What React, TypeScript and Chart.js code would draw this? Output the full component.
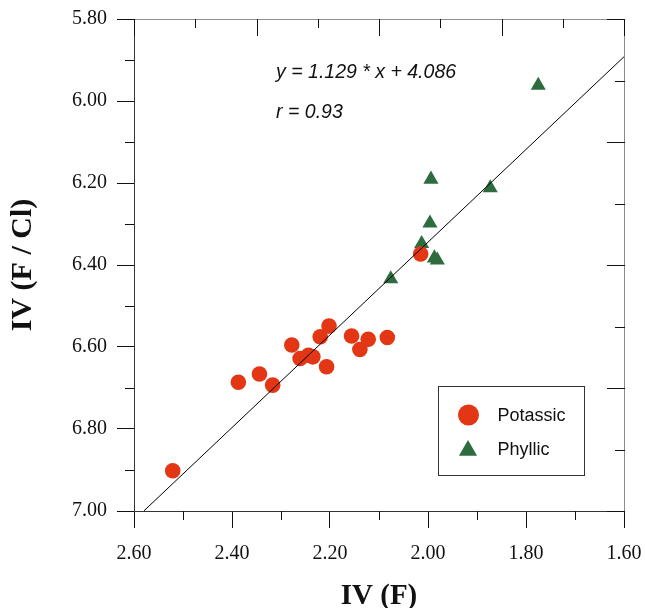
import React, { useEffect, useRef } from 'react';
import { Chart, registerables } from 'chart.js';

Chart.register(...registerables);

// ---- data ----
const potassicX = [2.521, 2.387, 2.344, 2.317, 2.278, 2.261, 2.244, 2.235, 2.220, 2.202, 2.207, 2.156, 2.139, 2.122, 2.083, 2.015];
const potassicY = [6.902, 6.686, 6.666, 6.693, 6.595, 6.628, 6.620, 6.624, 6.575, 6.549, 6.648, 6.573, 6.606, 6.581, 6.577, 6.373];

const phyllicX = [1.775, 1.994, 1.873, 1.996, 2.013, 1.987, 1.981, 2.076];
const phyllicY = [5.962, 6.191, 6.212, 6.298, 6.348, 6.383, 6.388, 6.434];

// regression line end points (y = 1.129 * x + 4.086)
const fitX = [2.58, 1.60];
const fitY = [7.00, 5.892];

const xTickValues = [2.6, 2.4, 2.2, 2.0, 1.8, 1.6];
const xMinorValues = [2.5, 2.3, 2.1, 1.9, 1.7];
const yTickValues = [5.8, 6.0, 6.2, 6.4, 6.6, 6.8, 7.0];
const yMinorValues = [5.9, 6.1, 6.3, 6.5, 6.7, 6.9];

const seriesNames = ['Potassic', 'Phyllic'];
const equationText = 'y = 1.129 * x + 4.086';
const rText = 'r = 0.93';

// annotation anchors in data units
const equationPos = [2.31, 5.945];
const rPos = [2.31, 6.042];

const RED = '#E23614';
const GREEN = '#2E6C3F';
const SERIF = '"Liberation Serif", "Times New Roman", Times, serif';
const SANS = '"Liberation Sans", Arial, Helvetica, sans-serif';

function drawTriangle(ctx: CanvasRenderingContext2D, cx: number, cy: number, r: number) {
  ctx.beginPath();
  let a = 0;
  ctx.moveTo(cx + Math.sin(a) * r, cy - Math.cos(a) * r);
  a += (2 * Math.PI) / 3;
  ctx.lineTo(cx + Math.sin(a) * r, cy - Math.cos(a) * r);
  a += (2 * Math.PI) / 3;
  ctx.lineTo(cx + Math.sin(a) * r, cy - Math.cos(a) * r);
  ctx.closePath();
  ctx.fill();
}

const framePlugin = {
  id: 'frameDecor',
  afterDraw(chart: any) {
    const { ctx, chartArea, scales } = chart;
    const { left, right, top, bottom } = chartArea;
    const xs = scales.x;
    const ys = scales.y;
    const L = Math.round(left) + 0.5;
    const R = Math.round(right) + 0.5;
    const T = Math.round(top) + 0.5;
    const B = Math.round(bottom) + 0.5;
    ctx.save();
    ctx.lineWidth = 1;
    // top and right frame
    ctx.strokeStyle = '#8c8c8c';
    ctx.beginPath();
    ctx.moveTo(L, T);
    ctx.lineTo(R, T);
    ctx.moveTo(R, T);
    ctx.lineTo(R, B);
    ctx.stroke();

    ctx.strokeStyle = '#111';
    ctx.beginPath();
    // inward ticks on top and right frame
    for (let i = 0; i <= 8; i++) {
      const len = i % 2 ? 9 : 17;
      const px = Math.round(left + ((right - left) * i) / 8) + 0.5;
      ctx.moveTo(px, top);
      ctx.lineTo(px, top + len);
      const py = Math.round(bottom - ((bottom - top) * i) / 8) + 0.5;
      ctx.moveTo(right - len, py);
      ctx.lineTo(right + 1, py);
    }
    // minor ticks on bottom and left axes
    xMinorValues.forEach((v) => {
      const px = Math.round(xs.getPixelForValue(v)) + 0.5;
      ctx.moveTo(px, bottom);
      ctx.lineTo(px, bottom + 9);
    });
    yMinorValues.forEach((v) => {
      const py = Math.round(ys.getPixelForValue(v)) + 0.5;
      ctx.moveTo(left - 9, py);
      ctx.lineTo(left, py);
    });
    ctx.stroke();

    // equation text
    ctx.fillStyle = '#111';
    ctx.font = 'italic 19.5px ' + SANS;
    ctx.textAlign = 'left';
    ctx.textBaseline = 'alphabetic';
    ctx.fillText(equationText, xs.getPixelForValue(equationPos[0]), ys.getPixelForValue(equationPos[1]));
    ctx.fillText(rText, xs.getPixelForValue(rPos[0]), ys.getPixelForValue(rPos[1]));

    // legend box
    const bx = left + 304.5;
    const by = top + 367.5;
    const bw = 146;
    const bh = 89;
    ctx.fillStyle = '#fff';
    ctx.fillRect(bx, by, bw, bh);
    ctx.strokeStyle = '#333';
    ctx.strokeRect(bx, by, bw, bh);

    ctx.fillStyle = RED;
    ctx.beginPath();
    ctx.arc(bx + 30, by + 28.5, 10.5, 0, Math.PI * 2);
    ctx.fill();
    ctx.fillStyle = GREEN;
    drawTriangle(ctx, bx + 29.5, by + 64, 10.5);

    ctx.fillStyle = '#111';
    ctx.font = '18px ' + SANS;
    ctx.fillText(seriesNames[0], bx + 59, by + 34);
    ctx.fillText(seriesNames[1], bx + 59, by + 68.5);
    ctx.restore();
  },
};

export default function App() {
  const canvasRef = useRef<HTMLCanvasElement | null>(null);

  useEffect(() => {
    if (!canvasRef.current) return;
    const chart = new Chart(canvasRef.current, {
      type: 'scatter',
      data: {
        datasets: [
          {
            label: 'fit',
            data: fitX.map((x, i) => ({ x, y: fitY[i] })),
            showLine: true,
            borderColor: '#000',
            borderWidth: 1,
            pointRadius: 0,
            fill: false,
            order: 0,
          },
          {
            label: seriesNames[0],
            data: potassicX.map((x, i) => ({ x, y: potassicY[i] })),
            pointStyle: 'circle',
            pointRadius: 7.8,
            pointHoverRadius: 7.8,
            backgroundColor: RED,
            borderWidth: 0,
            order: 1,
          },
          {
            label: seriesNames[1],
            data: phyllicX.map((x, i) => ({ x, y: phyllicY[i] })),
            pointStyle: 'triangle',
            pointRadius: 8.7,
            pointHoverRadius: 8.7,
            backgroundColor: GREEN,
            borderWidth: 0,
            order: 2,
          },
        ],
      },
      options: {
        animation: false,
        responsive: false,
        maintainAspectRatio: false,
        layout: { padding: { left: 0, right: 21, top: 19, bottom: 0 } },
        plugins: {
          legend: { display: false },
          tooltip: { enabled: false },
        },
        scales: {
          x: {
            type: 'linear',
            position: 'bottom',
            reverse: true,
            min: 1.6,
            max: 2.6,
            afterBuildTicks: (s: any) => {
              s.ticks = xTickValues.map((v) => ({ value: v }));
            },
            afterFit: (s: any) => {
              s.height = 97;
              s.paddingLeft = 0;
              s.paddingRight = 0;
            },
            ticks: {
              autoSkip: false,
              maxRotation: 0,
              padding: 14,
              color: '#111',
              font: { family: SERIF, size: 20 },
              callback: (v: any) => Number(v).toFixed(2),
            },
            grid: { drawOnChartArea: false, drawTicks: true, tickLength: 17, tickColor: '#111', tickWidth: 1 },
            border: { display: true, color: '#333', width: 1 },
            title: {
              display: true,
              text: 'IV (F)',
              color: '#111',
              font: { family: SERIF, size: 29, weight: 'bold', lineHeight: 0.9 },
              padding: { top: 0, bottom: -2 },
            },
          },
          y: {
            type: 'linear',
            position: 'left',
            reverse: true,
            min: 5.8,
            max: 7.0,
            afterBuildTicks: (s: any) => {
              s.ticks = yTickValues.map((v) => ({ value: v }));
            },
            afterFit: (s: any) => {
              s.width = 134;
              s.paddingTop = 0;
              s.paddingBottom = 0;
            },
            ticks: {
              autoSkip: false,
              padding: 10,
              color: '#111',
              font: { family: SERIF, size: 20 },
              callback: (v: any) => Number(v).toFixed(2),
            },
            grid: { drawOnChartArea: false, drawTicks: true, tickLength: 17, tickColor: '#111', tickWidth: 1 },
            border: { display: true, color: '#333', width: 1 },
            title: {
              display: true,
              text: 'IV (F / Cl)',
              color: '#111',
              font: { family: SERIF, size: 30, weight: 'bold', lineHeight: 1.2 },
              padding: { top: 5, bottom: 0 },
            },
          },
        },
      },
      plugins: [framePlugin],
    } as any);
    return () => chart.destroy();
  }, []);

  return (
    <div style={{ position: 'absolute', left: 0, top: 0, width: 645, height: 608, background: '#fff' }}>
      <canvas ref={canvasRef} width={645} height={608} style={{ display: 'block' }} />
    </div>
  );
}
